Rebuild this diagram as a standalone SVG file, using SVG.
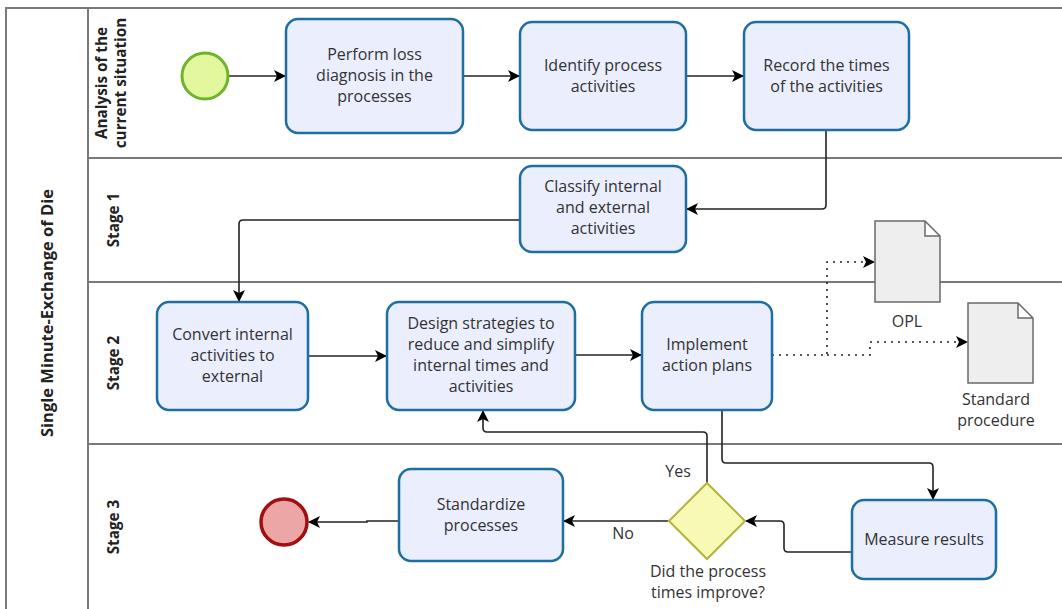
<svg xmlns="http://www.w3.org/2000/svg" width="1062" height="609" viewBox="0 0 1062 609">
<style>
.lane{fill:none;stroke:#7a7a7a;stroke-width:2}
.task{fill:#eaeefd;stroke:#1c6fa0;stroke-width:2.5}
.t{font-family:"Open Sans","Noto Sans",sans-serif;font-size:16px;fill:#333;text-anchor:middle}
.lb{font-family:"Open Sans","Noto Sans",sans-serif;font-size:15.3px;font-weight:bold;fill:#222;text-anchor:middle}
.c{fill:none;stroke:#222;stroke-width:1.6}
.d{fill:none;stroke:#222;stroke-width:1.6;stroke-dasharray:2 5}
.doc{fill:#eeeeee;stroke:#6a6a6a;stroke-width:1.5}
</style>
<defs>
<marker id="a" viewBox="0 0 12 12" refX="11" refY="6" markerWidth="12" markerHeight="12" markerUnits="userSpaceOnUse" orient="auto">
<path d="M0,0 L12,6 L0,12 L3,6 z" fill="#000"/>
</marker>
</defs>
<rect width="1062" height="609" fill="#fff"/>
<g id="pool">
<path class="lane" d="M1062,8 H6 V609 M88,8 V609 M88,158 H1062 M88,282 H1062 M88,444 H1062"/>
<text class="lb" style="font-size:16.5px" transform="translate(53,313) rotate(-90)">Single Minute-Exchange of Die</text>
<text class="lb" transform="translate(107,83) rotate(-90)">Analysis of the</text>
<text class="lb" transform="translate(126,83) rotate(-90)">current situation</text>
<text class="lb" transform="translate(119,220) rotate(-90)">Stage 1</text>
<text class="lb" transform="translate(119,363) rotate(-90)">Stage 2</text>
<text class="lb" transform="translate(119,527) rotate(-90)">Stage 3</text>
</g>
<g id="connectors">
<path class="c" d="M229,76 H285" marker-end="url(#a)"/>
<path class="c" d="M463,76 H519" marker-end="url(#a)"/>
<path class="c" d="M686,76 H743" marker-end="url(#a)"/>
<path class="c" d="M826,130 V205 Q826,209 822,209 H687" marker-end="url(#a)"/>
<path class="c" d="M520,220 H243 Q239,220 239,224 V301" marker-end="url(#a)"/>
<path class="c" d="M308,356 H386" marker-end="url(#a)"/>
<path class="c" d="M575,355 H641" marker-end="url(#a)"/>
<path class="d" d="M772,355 H827 V262 H874" marker-end="url(#a)"/>
<path class="d" d="M827,355 H870 V342 H967" marker-end="url(#a)"/>
<path class="c" d="M722,410 V459 Q722,463 726,463 H929 Q933,463 933,467 V499" marker-end="url(#a)"/>
<path class="c" d="M852,552 H788 Q784,552 784,548 V525 Q784,521 780,521 H746" marker-end="url(#a)"/>
<path class="c" d="M668,521 H564" marker-end="url(#a)"/>
<path class="c" d="M707,483 V436 Q707,432 703,432 H487 Q483,432 483,428 V411" marker-end="url(#a)"/>
<path class="c" d="M399,521 H367 V522 H309" marker-end="url(#a)"/>
<text class="t" x="678" y="477">Yes</text>
<text class="t" x="623" y="539">No</text>
</g>
<g id="start"><circle cx="205" cy="76" r="23" fill="#e2f79e" stroke="#6db42a" stroke-width="3"/></g>
<g id="end"><circle cx="284" cy="522" r="23" fill="#eca6a6" stroke="#a30f0f" stroke-width="3.5"/></g>
<g id="task1"><rect class="task" x="286" y="19" width="177" height="114" rx="12"/>
<text class="t" x="374.5" y="60">Perform loss</text><text class="t" x="374.5" y="81">diagnosis in the</text><text class="t" x="374.5" y="102">processes</text></g>
<g id="task2"><rect class="task" x="520" y="22" width="166" height="108" rx="12"/>
<text class="t" x="603" y="71">Identify process</text><text class="t" x="603" y="92">activities</text></g>
<g id="task3"><rect class="task" x="744" y="22" width="165" height="108" rx="12"/>
<text class="t" x="826.5" y="71">Record the times</text><text class="t" x="826.5" y="92">of the activities</text></g>
<g id="classify"><rect class="task" x="520" y="166" width="166" height="86" rx="12"/>
<text class="t" x="603" y="192">Classify internal</text><text class="t" x="603" y="213">and external</text><text class="t" x="603" y="234">activities</text></g>
<g id="convert"><rect class="task" x="157" y="302" width="151" height="108" rx="12"/>
<text class="t" x="232.5" y="340">Convert internal</text><text class="t" x="232.5" y="361">activities to</text><text class="t" x="232.5" y="382">external</text></g>
<g id="design"><rect class="task" x="387" y="302" width="188" height="108" rx="12"/>
<text class="t" x="481" y="329">Design strategies to</text><text class="t" x="481" y="350">reduce and simplify</text><text class="t" x="481" y="371">internal times and</text><text class="t" x="481" y="392">activities</text></g>
<g id="implement"><rect class="task" x="642" y="302" width="130" height="108" rx="12"/>
<text class="t" x="707" y="350">Implement</text><text class="t" x="707" y="371">action plans</text></g>
<g id="measure"><rect class="task" x="852" y="500" width="144" height="79" rx="12"/>
<text class="t" x="924" y="545">Measure results</text></g>
<g id="standardize"><rect class="task" x="399" y="469" width="164" height="92" rx="12"/>
<text class="t" x="481" y="510">Standardize</text><text class="t" x="481" y="531">processes</text></g>
<g id="gateway"><path d="M707,483 L745,521 L707,559 L669,521 z" fill="#f9f9b6" stroke="#b3b33a" stroke-width="2"/>
<text class="t" x="708" y="577">Did the process</text><text class="t" x="708" y="598">times improve?</text></g>
<g id="opl"><path class="doc" d="M875,221 H925 L940,236 V302 H875 z M925,221 V236 H940"/>
<text class="t" x="907" y="327">OPL</text></g>
<g id="stdproc"><path class="doc" d="M968,303 H1018 L1033,318 V383 H968 z M1018,303 V318 H1033"/>
<text class="t" x="996" y="405">Standard</text><text class="t" x="996" y="426">procedure</text></g>
</svg>
